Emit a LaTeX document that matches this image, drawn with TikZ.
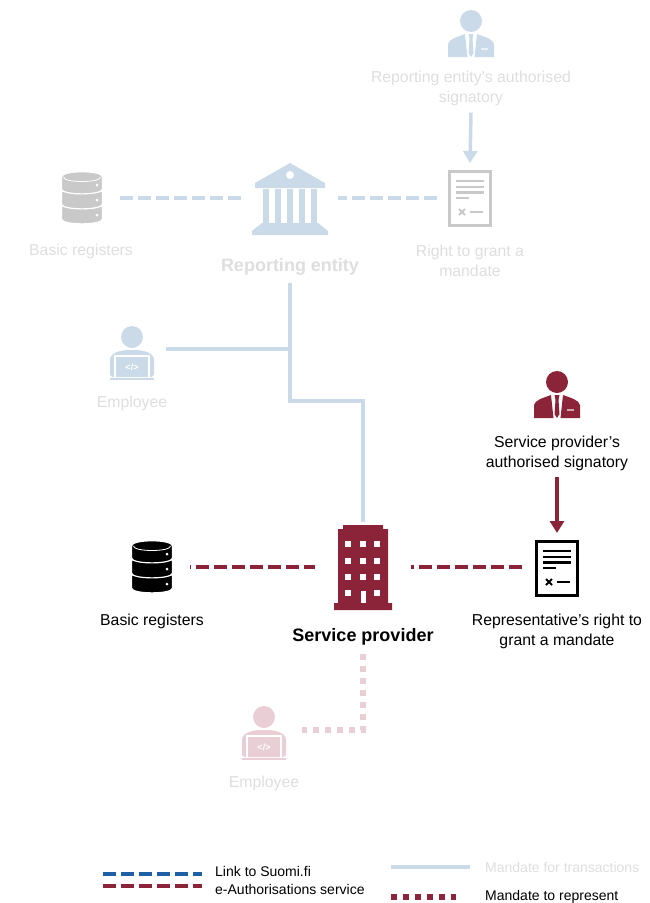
\documentclass[tikz,border=0pt]{standalone}
\usepackage{fontspec}
\setmainfont{Liberation Sans}
\usetikzlibrary{arrows.meta}
\definecolor{wine}{HTML}{8B2439}
\definecolor{palewine}{HTML}{E9CFD5}
\definecolor{paleblue}{HTML}{CBDAE8}
\definecolor{linkblue}{HTML}{1F5FA5}
\definecolor{palegrey}{HTML}{C9C9C9}
\definecolor{paletext}{HTML}{DEDEDE}
\tikzset{
    anchorbox/.style={inner sep=0pt, outer sep=0pt, minimum width=#1},
    lbl/.style={inner sep=0pt, align=center, font=\fontsize{15.8}{20}\selectfont},
    lblbig/.style={inner sep=0pt, font=\fontsize{18}{20}\selectfont\bfseries},
    lbllegend/.style={inner sep=0pt, anchor=west, font=\fontsize{14}{18}\selectfont},
    linkline/.style={line width=4pt, dash pattern=on 13pt off 5pt},
    dotline/.style={line width=6pt, dash pattern=on 6pt off 6pt},
    solidline/.style={line width=3.5pt, color=paleblue},
    arrowline/.style={line width=3.5pt, -{Triangle[width=14pt,length=12pt]}},
    pics/signatory/.style={code={
        \fill[#1] (0,0) circle[radius=11];
        \fill[#1] (-23,36) -- (-23,23) .. controls (-22,18) and (-14,16) .. (-6,13) -- (-3.5,36) -- cycle;
        \fill[#1] (23,36) -- (23,23) .. controls (22,18) and (14,16) .. (6,13) -- (3.5,36) -- cycle;
        \fill[#1] (-2.5,13) -- (2.5,13) -- (1.5,18) -- (2.5,32) -- (0,36) -- (-2.5,32) -- (-1.5,18) -- cycle;
        \fill[white, opacity=0.6] (10,26.5) rectangle (17,29);
    }},
    pics/discs/.style={code={
        \foreach \yy in {9,-6,-21} {
            \fill[#1, draw=white, line width=1.2pt] (-20.5,\yy) -- (-20.5,\yy+12) .. controls (-20.5,\yy+18.5) and (20.5,\yy+18.5) .. (20.5,\yy+12) -- (20.5,\yy) .. controls (20.5,\yy-7) and (-20.5,\yy-7) .. (-20.5,\yy) -- cycle;
            \fill[white] (15,\yy+8) circle[radius=1.5];
        }
        \draw[white, line width=0.8pt] (-18.5,-21) .. controls (-18.5,-15) and (18.5,-15) .. (18.5,-21);
    }},
    pics/document/.style={code={
        \draw[#1, line width=3pt, fill=white] (-20.5,-27) rectangle (20.5,27);
        \foreach \yy in {-17,-11,-5.5} \draw[#1, line width=2.2pt] (-14,\yy) -- (14,\yy);
        \draw[#1, line width=1.5pt] (-14,0) -- (-1,0);
        \draw[#1, line width=2pt] (-11,11) -- (-5,17) (-11,17) -- (-5,11);
        \draw[#1, line width=1.5pt] (0,14) -- (13,14);
    }},
    pics/bank/.style={code={
        \fill[#1] (0,-35) -- (35,-15) -- (35,-10) -- (-35,-10) -- (-35,-15) -- cycle;
        \fill[white] (0,-23) circle[radius=4];
        \foreach \xx in {-24,-12,0,12,24} \fill[#1] (\xx-3,-9) rectangle (\xx+3,25);
        \fill[#1] (-28,25) -- (28,25) -- (38,33) -- (38,37) -- (-38,37) -- (-38,33) -- cycle;
    }},
    pics/employee/.style={code={
        \fill[#1] (0,0) circle[radius=11];
        \fill[#1, rounded corners=3pt] (-22,40) -- (-22,26) .. controls (-22,16) and (-12,13) .. (0,13) .. controls (12,13) and (22,16) .. (22,26) -- (22,40) -- cycle;
        \draw[white, line width=1.2pt] (-17,40.5) -- (-17,19) -- (17,19) -- (17,40.5);
        \fill[#1] (-22,41) rectangle (22,43);
        \node[white, inner sep=0pt, font=\fontsize{9}{9}\selectfont\bfseries] at (0,30) {</>};
    }},
    pics/tower/.style={code={
        \fill[#1] (-20,-42) -- (20,-42) -- (20,-38) -- (25,-38) -- (25,36) -- (29,36) -- (29,43) -- (-29,43) -- (-29,36) -- (-25,36) -- (-25,-38) -- (-20,-38) -- cycle;
        \foreach \yy in {-23,-6,10,26} \foreach \xx in {-15,14}
            \fill[white] (\xx-3,\yy-3) rectangle (\xx+3,\yy+3);
        \foreach \yy in {-23,-6,10} \fill[white] (-3,\yy-3) rectangle (3,\yy+3);
        \fill[white] (-2.5,24) rectangle (2.5,36);
    }},
}
\begin{document}
\begin{tikzpicture}[x=1pt,y=-1pt]
    \useasboundingbox (0,0) rectangle (649,903);

    % upper part, faded
    \pic at (471,21) {signatory=paleblue};
    \node[lbl, text=paletext] (signtop) at (471,88) {Reporting entity's authorised\\signatory};
    \node[anchorbox=66pt, minimum height=70pt] (doctop) at (470,198) {}; \pic at (470,198) {document=palegrey};
    \node[lbl, text=paletext] (righttop) at (470,261) {Right to grant a\\mandate};
    \node[anchorbox=76pt, minimum height=52pt] (dbtop) at (82,198) {}; \pic at (82,198) {discs=palegrey};
    \node[lbl, text=paletext] (regtop) at (81,251) {Basic registers};
    \node[anchorbox=96pt, minimum height=72pt] (bank) at (290,198) {}; \pic at (290,198) {bank=paleblue};
    \node[lblbig, text=paletext] (entity) at (290,267) {Reporting entity};
    \node[anchorbox=68pt, minimum height=46pt] (emptop) at (132,349) {}; \pic at (132,337) {employee=paleblue};
    \node[lbl, text=paletext] (emptoplbl) at (132,403) {Employee};

    % lower part
    \pic at (557,382) {signatory=wine};
    \node[lbl] (signlow) at (557,453) {Service provider's\\authorised signatory};
    \node[anchorbox=66pt, minimum height=68pt] (doclow) at (557,567) {}; \pic at (557,568) {document=black};
    \node[lbl] (rightlow) at (557,631) {Representative's right to\\grant a mandate};
    \node[anchorbox=76pt, minimum height=52pt] (dblow) at (152,567) {}; \pic at (152,567) {discs=black};
    \node[lbl] (reglow) at (152,621) {Basic registers};
    \node[anchorbox=96pt, minimum height=90pt] (provider) at (363,567) {}; \pic at (363,567) {tower=wine};
    \node[lblbig, text=black] (providerlbl) at (363,637) {Service provider};
    \node[anchorbox=76pt, minimum height=46pt] (emplow) at (264,730) {}; \pic at (264,717) {employee=palewine};
    \node[lbl, text=paletext] (emplowlbl) at (264,783) {Employee};

    \coordinate (bend1) at (290,401); \coordinate (bend2) at (363,401); \coordinate (join1) at (290,349);
    \coordinate (bend3) at (363,730);

    % connectors
    \draw[linkline, color=paleblue] (dbtop) to (bank); \draw[linkline, color=paleblue, dash phase=4pt] (bank) to (doctop);
    \draw[arrowline, color=paleblue] (signtop.south) ++(0,7) to (doctop.north);
    \draw[solidline] (entity.south) ++(0,7) to (bend1) to (bend2) to (provider.north);
    \draw[solidline] (emptop) to (join1);
    \draw[linkline, color=wine, dash phase=12pt] (dblow) to (provider); \draw[linkline, color=wine, dash phase=10pt] (provider) to (doclow);
    \draw[arrowline, color=wine] (signlow.south) ++(0,6) to (doclow.north);
    \draw[dotline, color=palewine] (providerlbl.south) ++(0,8) to (bend3) to (emplow);

    % legend
    \coordinate (leg1a) at (103,874); \coordinate (leg1b) at (202,874);
    \coordinate (leg2a) at (103,886); \coordinate (leg2b) at (202,886);
    \coordinate (leg3a) at (391,867); \coordinate (leg3b) at (470,867);
    \coordinate (leg4a) at (391,897); \coordinate (leg4b) at (456,897);
    \draw[linkline, color=linkblue] (leg1a) to (leg1b);
    \draw[linkline, color=wine] (leg2a) to (leg2b);
    \draw[solidline] (leg3a) to (leg3b);
    \draw[dotline, color=wine] (leg4a) to (leg4b);
    \node[lbllegend] (leglink1) at (215,871) {Link to Suomi.fi};
    \node[lbllegend] (leglink2) at (215,889) {e-Authorisations service};
    \node[lbllegend, text=paletext] (legtrans) at (485,867) {Mandate for transactions};
    \node[lbllegend] (legrep) at (485,897) {Mandate to represent};
\end{tikzpicture}
\end{document}
